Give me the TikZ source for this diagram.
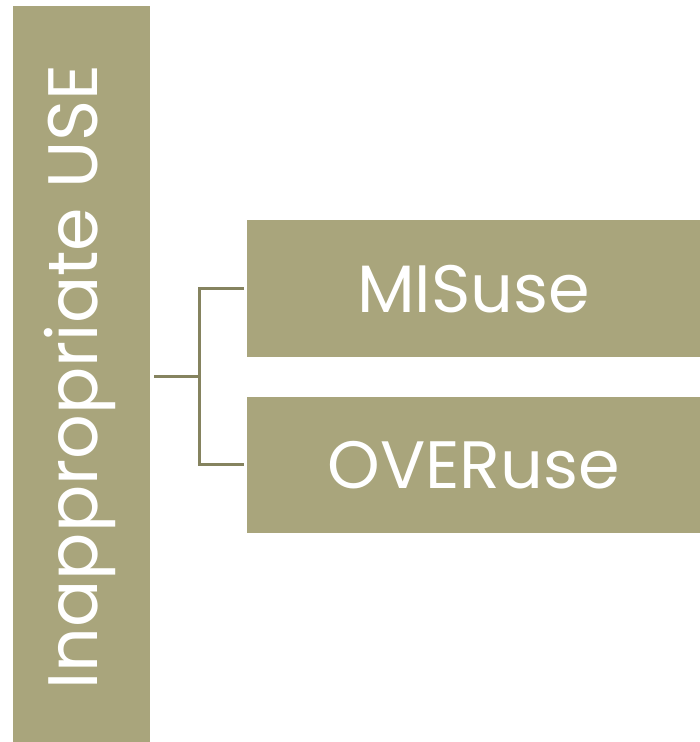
\documentclass[tikz,border=0pt]{standalone}
\usepackage{fontspec}
\setmainfont{Poppins}
\definecolor{boxfill}{HTML}{A9A57C}
\definecolor{linecol}{HTML}{85835F}
\begin{document}
\begin{tikzpicture}[x=1pt,y=-1pt,
  boxstyle/.style={fill=boxfill, draw=none, inner sep=0pt, text=white},
  conn/.style={draw=linecol, line width=3pt}]
\useasboundingbox (0,0) rectangle (700,742);
\fill[white] (0,0) rectangle (700,742);
\node[boxstyle, minimum width=137pt, minimum height=736pt, anchor=north west] (main) at (13,6) {};
\node[rotate=90, text=white, font=\fontsize{70}{76}\selectfont] (maintext) at (80,377) {Inappropriate USE};
\node[boxstyle, minimum width=453pt, minimum height=137pt, anchor=north west, font=\fontsize{67}{72}\selectfont] (mis) at (247,220) {MISuse};
\node[boxstyle, minimum width=453pt, minimum height=136pt, anchor=north west, font=\fontsize{67}{72}\selectfont] (over) at (247,397) {OVERuse};
\coordinate (j) at (199.5,376.5);
\draw[conn] (154,376.5) -- (j);
\draw[conn] (244,288) -| (j) |- (244,464);
\end{tikzpicture}
\end{document}
